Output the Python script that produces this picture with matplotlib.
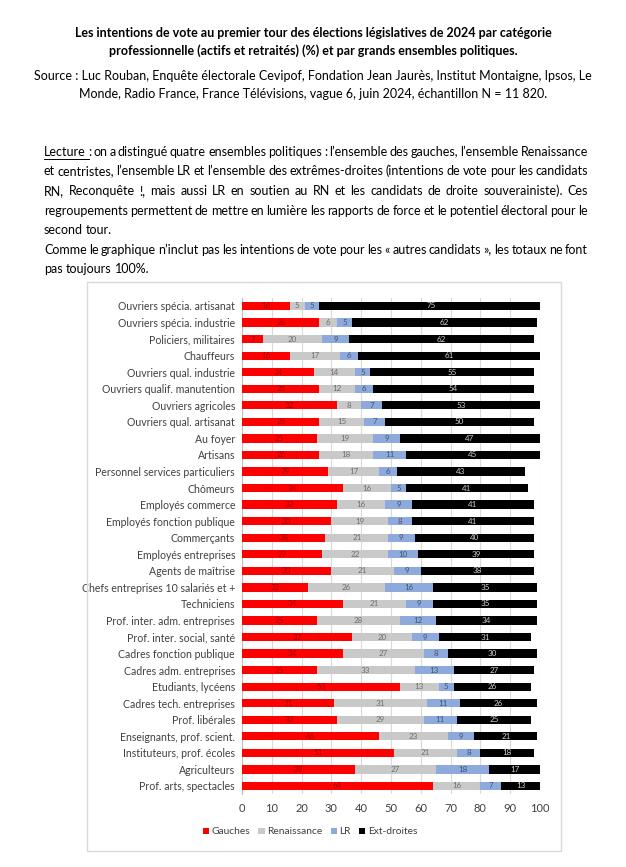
import matplotlib.pyplot as plt
from matplotlib.patches import Rectangle
from matplotlib.lines import Line2D

plt.rcParams['font.family'] = ['Lato', 'DejaVu Sans']

categories = [
    "Ouvriers spécia. artisanat", "Ouvriers spécia. industrie", "Policiers, militaires",
    "Chauffeurs", "Ouvriers qual. industrie", "Ouvriers qualif. manutention",
    "Ouvriers agricoles", "Ouvriers qual. artisanat", "Au foyer", "Artisans",
    "Personnel services particuliers", "Chômeurs", "Employés commerce",
    "Employés fonction publique", "Commerçants", "Employés entreprises",
    "Agents de maîtrise", "Chefs entreprises 10 salariés et +", "Techniciens",
    "Prof. inter. adm. entreprises", "Prof. inter. social, santé",
    "Cadres fonction publique", "Cadres adm. entreprises", "Etudiants, lycéens",
    "Cadres tech. entreprises", "Prof. libérales", "Enseignants, prof. scient.",
    "Instituteurs, prof. écoles", "Agriculteurs", "Prof. arts, spectacles",
]
gauches = [16, 26, 7, 16, 24, 26, 32, 26, 25, 26, 29, 34, 32, 30, 28, 27, 30, 22, 34,
           25, 37, 34, 25, 53, 31, 32, 46, 51, 38, 64]
renaissance = [5, 6, 20, 17, 14, 12, 8, 15, 19, 18, 17, 16, 16, 19, 21, 22, 21, 26, 21,
               28, 20, 27, 33, 13, 31, 29, 23, 21, 27, 16]
lr = [5, 5, 9, 6, 5, 6, 7, 7, 9, 11, 6, 5, 9, 8, 9, 10, 9, 16, 9,
      12, 9, 8, 13, 5, 11, 11, 9, 8, 18, 7]
ext_droites = [75, 62, 62, 61, 55, 54, 53, 50, 47, 45, 43, 41, 41, 41, 40, 39, 38, 35, 35,
               34, 31, 30, 27, 26, 26, 25, 21, 18, 17, 13]

series = [
    ("Gauches", gauches, "#FF0000", "#A00000"),
    ("Renaissance", renaissance, "#C9C9C9", "#6E6E6E"),
    ("LR", lr, "#8EA9DB", "#44546A"),
    ("Ext-droites", ext_droites, "#000000", "#D0D0D0"),
]

W, H = 626, 867
fig = plt.figure(figsize=(W / 100, H / 100), dpi=100)
fig.patch.set_facecolor("white")


def fx(px):
    return px / W


def fy(py):
    return 1 - py / H


txt = "#000000"
# title and source
fig.text(0.5, fy(33), "Les intentions de vote au premier tour des élections législatives de 2024 par catégorie",
         ha="center", va="center", fontsize=9, fontweight="bold", color=txt)
fig.text(0.5, fy(51), "professionnelle (actifs et retraités) (%) et par grands ensembles politiques.",
         ha="center", va="center", fontsize=9, fontweight="bold", color=txt)
fig.text(0.5, fy(76), "Source : Luc Rouban, Enquête électorale Cevipof, Fondation Jean Jaurès, Institut Montaigne, Ipsos, Le",
         ha="center", va="center", fontsize=9, color=txt)
fig.text(0.5, fy(94), "Monde, Radio France, France Télévisions, vague 6, juin 2024, échantillon N = 11 820.",
         ha="center", va="center", fontsize=9, color=txt)

# justified paragraph (words placed one by one)
renderer = fig.canvas.get_renderer()
left_px, right_px = 44, 588
probe1 = fig.text(0, 0, "a a", fontsize=9)
probe2 = fig.text(0, 0, "aa", fontsize=9)
space_w = probe1.get_window_extent(renderer).width - probe2.get_window_extent(renderer).width
probe1.remove()
probe2.remove()

para_lines = [
    ("Lecture : on a distingué quatre ensembles politiques : l’ensemble des gauches, l’ensemble Renaissance", 152, True),
    ("et centristes, l’ensemble LR et l’ensemble des extrêmes-droites (intentions de vote pour les candidats", 171, True),
    ("RN, Reconquête !, mais aussi LR en soutien au RN et les candidats de droite souverainiste). Ces", 191, True),
    ("regroupements permettent de mettre en lumière les rapports de force et le potentiel électoral pour le", 211, True),
    ("second tour.", 230, False),
    ("Comme le graphique n’inclut pas les intentions de vote pour les « autres candidats », les totaux ne font", 250, True),
    ("pas toujours 100%.", 269, False),
]
for line, ypx, justify in para_lines:
    words = line.split(" ")
    items = []
    total = 0
    for w in words:
        t = fig.text(0, fy(ypx), w, ha="left", va="center", fontsize=9, color=txt)
        ww = t.get_window_extent(renderer).width
        items.append((t, ww))
        total += ww
    gap = (right_px - left_px - total) / (len(words) - 1) if justify else space_w
    x = left_px
    for i, (t, ww) in enumerate(items):
        t.set_x(fx(x))
        if i == 0 and line.startswith("Lecture"):
            fig.add_artist(Line2D([fx(x), fx(x + ww + space_w)], [fy(ypx + 7), fy(ypx + 7)],
                                  color=txt, lw=0.7))
        x += ww + gap

# chart border
fig.add_artist(Rectangle((fx(87), fy(851)), fx(561 - 87), (851 - 282) / H,
                         fill=False, edgecolor="#D9D9D9", lw=1))

n = len(categories)
row_top, row_bot = 306, 786
step = (row_bot - row_top) / (n - 1)
ax_top = row_top - step / 2
ax_bot = row_bot + step / 2
ax = fig.add_axes([fx(242), fy(ax_bot), fx(540 - 242), (ax_bot - ax_top) / H])

ypos = list(range(n))
left = [0] * n
for name, vals, col, lcol in series:
    bars = ax.barh(ypos, vals, left=left, height=0.5, color=col, label=name, zorder=3)
    for b, v in zip(bars, vals):
        ax.text(b.get_x() + b.get_width() / 2, b.get_y() + b.get_height() / 2, str(v),
                ha="center", va="center", fontsize=5.8, color=lcol, zorder=4)
    left = [l + v for l, v in zip(left, vals)]

ax.set_ylim(n - 0.5, -0.5)
ax.set_xlim(0, 100)
ax.set_xticks(range(0, 101, 10))
ax.set_yticks(ypos)
ax.set_yticklabels(categories, fontsize=7.6, color="#404040")
ax.tick_params(axis="x", labelsize=8, labelcolor="#404040", length=0, pad=6)
ax.tick_params(axis="y", length=0, pad=5)
ax.grid(True, axis="x", color="#D9D9D9", lw=0.8, zorder=0)
for s in ["top", "right", "bottom"]:
    ax.spines[s].set_visible(False)
ax.spines["left"].set_color("#BFBFBF")

handles, labels = ax.get_legend_handles_labels()
fig.legend(handles, labels, loc="center", bbox_to_anchor=(fx(310), fy(832)), ncol=4,
           frameon=False, fontsize=7.4, handlelength=0.6, handleheight=0.6,
           handletextpad=0.25, columnspacing=0.8, labelcolor="#404040")

fig.savefig("out.png", dpi=100, facecolor="white")
